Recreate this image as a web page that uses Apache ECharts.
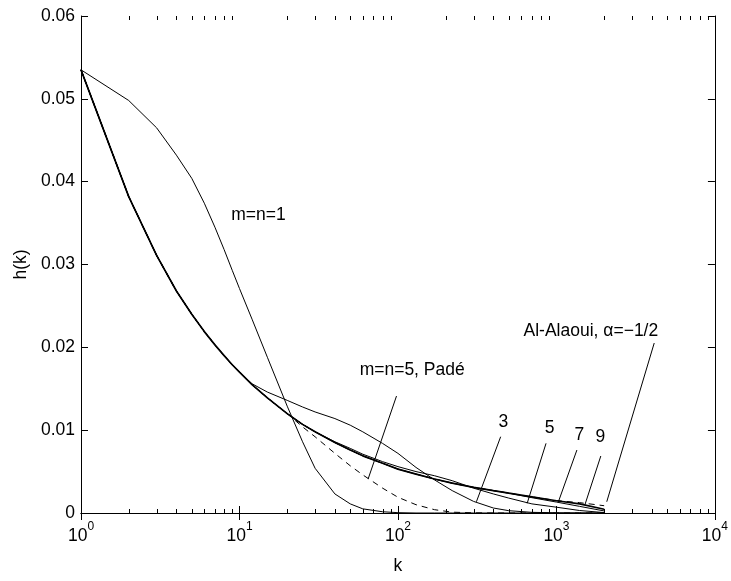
<!DOCTYPE html>
<html>
<head>
<meta charset="utf-8">
<script src="https://cdn.jsdelivr.net/npm/echarts@6/dist/echarts.min.js"></script>
<style>
html, body { margin: 0; padding: 0; background: #fff; }
#chart { width: 731px; height: 581px; }
</style>
</head>
<body>
<div id="chart"></div>
<script>
// k 取样点
var kValues = [1, 2, 3, 4, 5, 6, 7, 8, 9, 10, 12, 15, 20, 25, 30, 40, 50, 60, 80, 100, 130, 170, 220, 300, 400, 500, 700, 1000, 1400, 2000];
// 各条曲线 h(k)
var mn1 = [0.0535, 0.0498, 0.0465, 0.0432, 0.0404, 0.0374, 0.0345, 0.0318, 0.0293, 0.0271, 0.0234, 0.0188, 0.0129, 0.0086, 0.0054, 0.0023, 0.0011, 0.0005, 0.00015, 0.00004, 0, 0, 0, 0, 0, 0, 0, 0, 0, 0];
var mn3 = [0.0535, 0.0382, 0.0311, 0.0268, 0.0240, 0.0219, 0.0203, 0.0190, 0.0179, 0.0170, 0.0156, 0.0146, 0.0136, 0.0128, 0.0122, 0.0114, 0.0106, 0.0098, 0.0084, 0.0072, 0.0055, 0.0040, 0.0027, 0.0014, 0.0006, 0.00028, 0.00008, 0.00002, 0, 0];
var mn5 = [0.0535, 0.0382, 0.0311, 0.0268, 0.0240, 0.0219, 0.0203, 0.0190, 0.0179, 0.0170, 0.0155, 0.0139, 0.0120, 0.0107, 0.0098, 0.0086, 0.0078, 0.0071, 0.0062, 0.0056, 0.0050, 0.0045, 0.0039, 0.0030, 0.0023, 0.0018, 0.0011, 0.0007, 0.0003, 0.00005];
var mn7 = [0.0535, 0.0382, 0.0311, 0.0268, 0.0240, 0.0219, 0.0203, 0.0190, 0.0179, 0.0170, 0.0155, 0.0139, 0.0120, 0.0107, 0.0098, 0.0085, 0.0076, 0.0069, 0.0060, 0.0053, 0.0047, 0.0041, 0.0036, 0.0031, 0.0027, 0.0024, 0.00185, 0.00132, 0.0008, 0.00025];
var mn9 = [0.0535, 0.0382, 0.0311, 0.0268, 0.0240, 0.0219, 0.0203, 0.0190, 0.0179, 0.0170, 0.0155, 0.0139, 0.0120, 0.0107, 0.0098, 0.0085, 0.0076, 0.0069, 0.0060, 0.0053, 0.0047, 0.0041, 0.0036, 0.0031, 0.0027, 0.0024, 0.00195, 0.00148, 0.0011, 0.00045];
var pade5 = [0.0535, 0.0382, 0.0311, 0.0268, 0.0240, 0.0219, 0.0203, 0.0190, 0.0179, 0.0170, 0.0155, 0.0139, 0.0120, 0.0104, 0.0092, 0.0072, 0.0057, 0.0046, 0.0030, 0.0019, 0.0010, 0.0004, 0.0001, 0.00002, 0, 0, 0, 0, 0, 0];
var alaoui = [0.0535, 0.0382, 0.0311, 0.0268, 0.0240, 0.0219, 0.0203, 0.0190, 0.0179, 0.0170, 0.0155, 0.0139, 0.0120, 0.0107, 0.0098, 0.0085, 0.0076, 0.0069, 0.0060, 0.0053, 0.0047, 0.0041, 0.0036, 0.0031, 0.0027, 0.0024, 0.00195, 0.0015, 0.00125, 0.00088];
// 次刻度
var minorTicks = [2, 3, 4, 5, 6, 7, 8, 9, 20, 30, 40, 50, 60, 70, 80, 90, 200, 300, 400, 500, 600, 700, 800, 900, 2000, 3000, 4000, 5000, 6000, 7000, 8000, 9000];
// 标注文字 [文字, k, h, 方向]
var notes = [
	['m=n=1', 8.87, 0.0360, 'right'],
	['m=n=5, Padé', 57.3, 0.01726, 'right'],
	['3', 431, 0.0110, 'right'],
	['5', 844, 0.0103, 'right'],
	['7', 1302, 0.0094, 'right'],
	['9', 1764, 0.0091, 'right'],
	['Al-Alaoui, α=−1/2', 4386, 0.0219, 'left']
];
// 指示线 [k1, h1, k2, h2]
var pointers = [
	[97.9, 0.01412, 64.8, 0.0041],
	[444.6, 0.00921, 312.6, 0.00136],
	[859.7, 0.00841, 653.4, 0.00117],
	[1346, 0.0076, 1029, 0.00136],
	[1905, 0.00688, 1511, 0.00097],
	[4140, 0.02052, 2077, 0.00136]
];

var font = "'Liberation Sans', Arial, sans-serif";
var fs = 17.5;

function pairs(arr) {
	return kValues.map(function(k, i) {
		return [k, arr[i]];
	});
}

function curve(name, arr, dashed, w) {
	return {
		name: name,
		type: 'line',
		data: pairs(arr),
		symbol: 'none',
		silent: true,
		lineStyle: {
			color: '#000',
			width: w || 1,
			type: dashed ? [6, 5] : 'solid'
		}
	};
}

var series = [
	curve('m=n=1', mn1),
	curve('3', mn3),
	curve('5', mn5),
	curve('7', mn7),
	curve('9', mn9, false, 1.7),
	curve('Padé', pade5, true),
	curve('Al-Alaoui', alaoui, true)
];

// 指示线和文字
series[0].markLine = {
	silent: true,
	symbol: ['none', 'none'],
	animation: false,
	label: { show: false },
	lineStyle: { color: '#000', width: 1, type: 'solid' },
	data: pointers.map(function(p) {
		return [{ coord: [p[0], p[1]] }, { coord: [p[2], p[3]] }];
	})
};
series[0].markPoint = {
	silent: true,
	symbol: 'circle',
	symbolSize: 0,
	animation: false,
	data: notes.map(function(n) {
		return {
			name: n[0],
			coord: [n[1], n[2]],
			label: {
				show: true,
				formatter: '{b}',
				position: n[3],
				distance: 0,
				color: '#000',
				fontSize: fs,
				fontFamily: font
			}
		};
	})
};

// 对数轴次刻度
series.push({
	type: 'custom',
	silent: true,
	clip: false,
	z: 5,
	data: minorTicks.map(function(k) { return [k, 0]; }),
	renderItem: function(params, api) {
		var x = Math.round(api.coord([api.value(0), 0])[0]) + 0.5;
		var cs = params.coordSys;
		var b = cs.y + cs.height;
		var t = cs.y;
		return {
			type: 'group',
			children: [{
				type: 'line',
				shape: { x1: x, y1: b, x2: x, y2: b - 4 },
				style: { stroke: '#000', lineWidth: 1 }
			}, {
				type: 'line',
				shape: { x1: x, y1: t, x2: x, y2: t + 4 },
				style: { stroke: '#000', lineWidth: 1 }
			}]
		};
	}
});

var axisCommon = {
	axisLine: { show: true, lineStyle: { color: '#000', width: 1 } },
	axisTick: { show: true, inside: true, length: 7, lineStyle: { color: '#000' } },
	splitLine: { show: false }
};

var option = {
	animation: false,
	backgroundColor: '#fff',
	textStyle: { fontFamily: font },
	grid: { left: 81, right: 13, top: 16, bottom: 68, containLabel: false },
	xAxis: [Object.assign({
		type: 'log',
		logBase: 10,
		min: 1,
		max: 10000,
		position: 'bottom',
		name: 'k',
		nameLocation: 'middle',
		nameGap: 44,
		nameTextStyle: { color: '#000', fontSize: fs, fontFamily: font },
		axisLabel: {
			margin: 8,
			color: '#000',
			formatter: function(v) {
				return '{b|10}{s|' + Math.round(Math.log10(v)) + '}';
			},
			rich: {
				b: { fontSize: fs, fontFamily: font, color: '#000', lineHeight: 24, verticalAlign: 'bottom' },
				s: { fontSize: 12, fontFamily: font, color: '#000', lineHeight: 24, verticalAlign: 'top' }
			}
		}
	}, axisCommon), Object.assign({
		type: 'log',
		logBase: 10,
		min: 1,
		max: 10000,
		position: 'top',
		axisLabel: { show: false }
	}, axisCommon)],
	yAxis: [Object.assign({
		type: 'value',
		min: 0,
		max: 0.06,
		interval: 0.01,
		name: 'h(k)',
		nameLocation: 'middle',
		nameGap: 46,
		nameRotate: 90,
		nameTextStyle: { color: '#000', fontSize: fs, fontFamily: font },
		axisLabel: {
			margin: 6,
			color: '#000',
			fontSize: fs,
			fontFamily: font,
			formatter: function(v) {
				return v === 0 ? '0' : v.toFixed(2);
			}
		}
	}, axisCommon), Object.assign({
		type: 'value',
		min: 0,
		max: 0.06,
		interval: 0.01,
		position: 'right',
		axisLabel: { show: false }
	}, axisCommon)],
	series: series
};

var chart = echarts.init(document.getElementById('chart'));
chart.setOption(option);
</script>
</body>
</html>
